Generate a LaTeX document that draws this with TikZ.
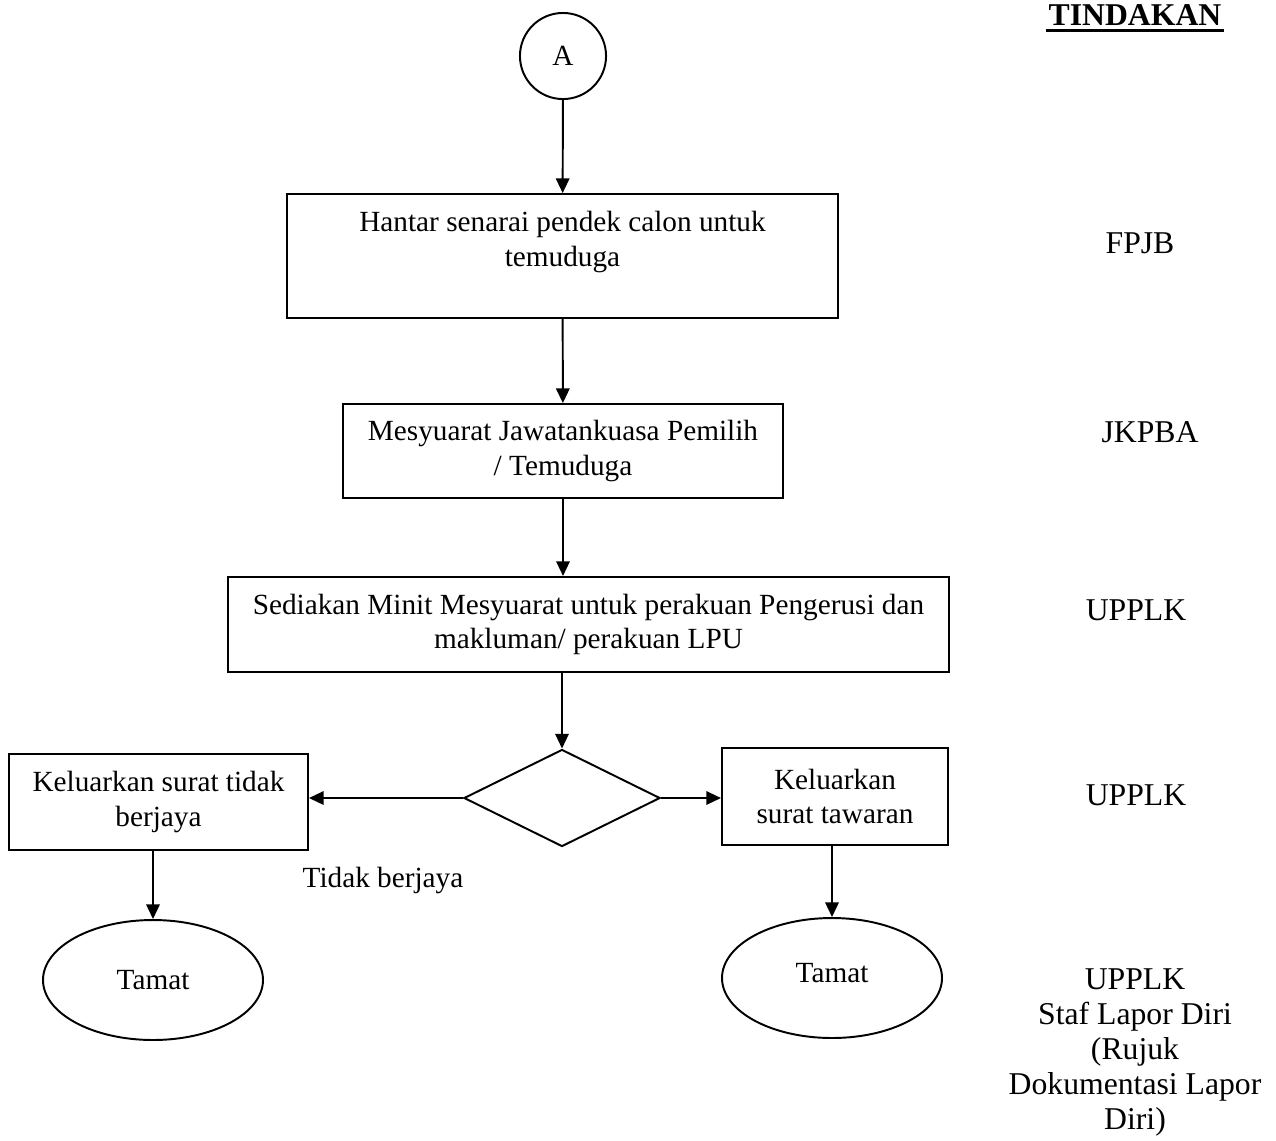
\documentclass[tikz,border=0pt]{standalone}
\usepackage{fontspec}
\setmainfont{Liberation Serif}
\usetikzlibrary{calc}
\usetikzlibrary{shapes.geometric}
\usetikzlibrary{arrows.meta}

\begin{document}
\begin{tikzpicture}[x=0.41pt, y=-0.41pt, line width=0.8pt, >={Triangle[length=6pt, width=5.5pt]}]

    \tikzset{
        langkah/.style={draw, rectangle, align=center, inner sep=0pt, font=\fontsize{12}{14.2}\selectfont},
        tamat/.style={draw, ellipse, inner sep=0pt, minimum width=90.2pt, minimum height=49.2pt, font=\fontsize{12}{14.2}\selectfont},
        tindakan/.style={align=center, inner sep=0pt, font=\fontsize{13}{14.35}\selectfont}
    }
    \useasboundingbox (0, 0) rectangle (1276, 1140);

    \node [draw, circle, minimum size=35.3pt, inner sep=0pt, font=\fontsize{12}{14.2}\selectfont] (A) at (563, 56) {A};
    \node [langkah, minimum width=225.9pt, minimum height=50.8pt] (B1) at (562.5, 256) {Hantar senarai pendek calon untuk\\ temuduga\\ \mbox{}};
    \node [langkah, minimum width=180.4pt, minimum height=38.5pt] (B2) at (563, 451) {Mesyuarat Jawatankuasa Pemilih\\ / Temuduga};
    \node [langkah, minimum width=295.6pt, minimum height=39pt] (B3) at (588.5, 624.5) {Sediakan Minit Mesyuarat untuk perakuan Pengerusi dan\\ makluman/ perakuan LPU};
    \node [draw, diamond, aspect=2, inner sep=0pt, minimum width=80.4pt, minimum height=39.8pt] (D) at (562, 798) {};
    \node [langkah, minimum width=122.6pt, minimum height=39.4pt] (B4) at (158.5, 802) {Keluarkan surat tidak\\ berjaya};
    \node [langkah, minimum width=92.7pt, minimum height=39.8pt] (B5) at (835, 796.5) {Keluarkan\\ surat tawaran};
    \node [font=\fontsize{12}{14.2}\selectfont] (TB) at (383, 880) {Tidak berjaya};
    \node [tamat] (E1) at (153, 980) {Tamat};
    \node [tamat] (E2) at (832, 978) {\raisebox{4pt}{Tamat}};

    \draw [->] (A) -- (B1);
    \draw [->] (B1) -- (B2);
    \draw [->] (B2.south) -- (B2.south |- B3.north);
    \draw [->] (D.north |- B3.south) -- (D.north);
    \draw [->] (D.west) -- (D.west -| B4.east);
    \draw [->] (D.east) -- (D.east -| B5.west);
    \draw [->] (E1.north |- B4.south) -- (E1.north);
    \draw [->] (E2.north |- B5.south) -- (E2.north);

    \node [tindakan, anchor=base, font=\fontsize{13}{14.35}\selectfont\bfseries] (TD) at (1135, 25) {TINDAKAN};
    \draw [line width=1.3pt] ($(TD.base west) + (-2, 5.5)$) -- ($(TD.base east) + (2, 5.5)$);
    \node [tindakan] (T1) at (1140, 243) {FPJB};
    \node [tindakan] (T2) at (1150, 432) {JKPBA};
    \node [tindakan] (T3) at (1136, 610) {UPPLK};
    \node [tindakan] (T4) at (1136, 795) {UPPLK};
    \node [tindakan] (T5) at (1135, 1052) {UPPLK\\ Staf Lapor Diri\\ (Rujuk\\ Dokumentasi Lapor\\ Diri)};

\end{tikzpicture}
\end{document}
